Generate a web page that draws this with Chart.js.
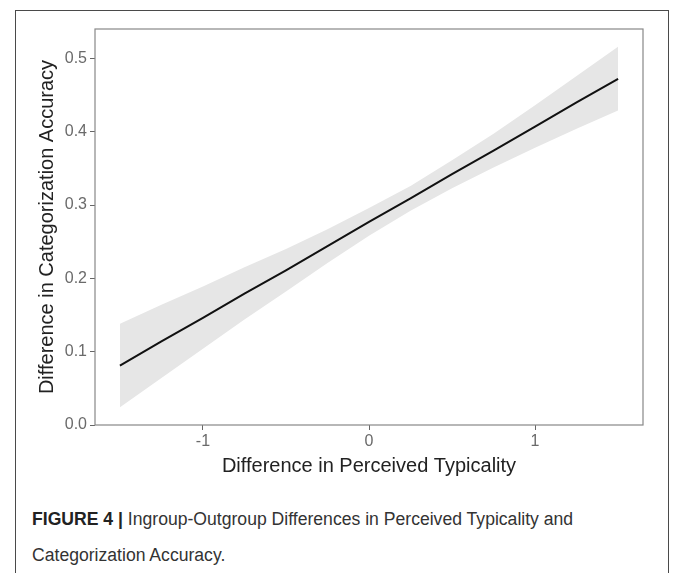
<!DOCTYPE html>
<html>
<head>
<meta charset="utf-8">
<script src="https://cdn.jsdelivr.net/npm/chart.js@4/dist/chart.umd.min.js"></script>
<style>
  html, body { margin: 0; padding: 0; background: #fff; width: 673px; height: 573px; overflow: hidden; }
  #frame { position: absolute; left: 15px; top: 10px; width: 654px; height: 600px; border: 1.5px solid #4a4a4a; box-sizing: border-box; }
  #wrap { position: absolute; left: 0; top: 0; width: 673px; height: 490px; }
  #caption { position: absolute; left: 32px; top: 501px; width: 630px; font-family: "Liberation Sans", Arial, sans-serif; font-size: 17.6px; line-height: 36px; color: #333; }
  #caption b { color: #222; }
</style>
</head>
<body>
<div id="frame"></div>
<div id="wrap"><canvas id="c" width="673" height="490"></canvas></div>
<div id="caption"><b>FIGURE 4 |</b> Ingroup-Outgroup Differences in Perceived Typicality and<br>Categorization Accuracy.</div>
<script>
// Data
const typicality = [-1.5, -1.25, -1.0, -0.75, -0.5, -0.25, 0, 0.25, 0.5, 0.75, 1.0, 1.25, 1.5];
const fitLine    = [0.081, 0.114, 0.146, 0.179, 0.211, 0.244, 0.277, 0.309, 0.342, 0.374, 0.407, 0.440, 0.472];
const ciUpper    = [0.138, 0.164, 0.189, 0.215, 0.240, 0.267, 0.296, 0.326, 0.361, 0.397, 0.436, 0.476, 0.516];
const ciLower    = [0.024, 0.064, 0.104, 0.144, 0.182, 0.221, 0.258, 0.292, 0.323, 0.351, 0.378, 0.404, 0.429];
const xTickValues = [-1, 0, 1];
const yTickValues = [0.0, 0.1, 0.2, 0.3, 0.4, 0.5];
const xTitle = "Difference in Perceived Typicality";
const yTitle = "Difference in Categorization Accuracy";

const pts = arr => typicality.map((x, i) => ({ x: x, y: arr[i] }));

const panelBorder = {
  id: 'panelBorder',
  afterDatasetsDraw(chart) {
    const a = chart.chartArea, ctx = chart.ctx;
    ctx.save();
    ctx.strokeStyle = '#888';
    ctx.lineWidth = 1.2;
    ctx.strokeRect(a.left, a.top, a.right - a.left, a.bottom - a.top);
    ctx.restore();
  }
};

const font = "'Liberation Sans', Arial, sans-serif";

new Chart(document.getElementById('c'), {
  type: 'line',
  data: {
    datasets: [
      { data: pts(ciUpper), borderWidth: 0, pointRadius: 0, backgroundColor: '#e6e6e6', fill: '+1', tension: 0, order: 3 },
      { data: pts(ciLower), borderWidth: 0, pointRadius: 0, backgroundColor: '#e6e6e6', fill: false, tension: 0, order: 2 },
      { data: pts(fitLine), borderColor: '#111', borderWidth: 2, pointRadius: 0, fill: false, tension: 0, order: 1 }
    ]
  },
  options: {
    responsive: false,
    animation: false,
    events: [],
    layout: { padding: { left: 35, right: 30, top: 29, bottom: 12 } },
    plugins: { legend: { display: false }, tooltip: { enabled: false } },
    scales: {
      x: {
        type: 'linear', min: -1.65, max: 1.65,
        afterBuildTicks: s => { s.ticks = xTickValues.map(v => ({ value: v })); },
        afterFit: s => { s.height = 53; },
        grid: { drawOnChartArea: false, drawTicks: true, tickLength: 5, color: '#666', lineWidth: 1 },
        border: { display: false },
        ticks: { color: '#6a6a6a', font: { family: font, size: 16 }, padding: 2, maxRotation: 0, callback: v => String(v) },
        title: { display: true, text: xTitle, color: '#222', font: { family: font, size: 20 }, padding: { top: 0, bottom: 0 } }
      },
      y: {
        type: 'linear', min: 0, max: 0.54,
        afterBuildTicks: s => { s.ticks = yTickValues.map(v => ({ value: v })); },
        afterFit: s => { s.width = 60; },
        grid: { drawOnChartArea: false, drawTicks: true, tickLength: 5, color: '#666', lineWidth: 1 },
        border: { display: false },
        ticks: { color: '#6a6a6a', font: { family: font, size: 16 }, padding: 3, callback: v => Number(v).toFixed(1) },
        title: { display: true, text: yTitle, color: '#222', font: { family: font, size: 20 }, padding: { top: 0, bottom: 0 } }
      }
    }
  },
  plugins: [panelBorder]
});
</script>
</body>
</html>
